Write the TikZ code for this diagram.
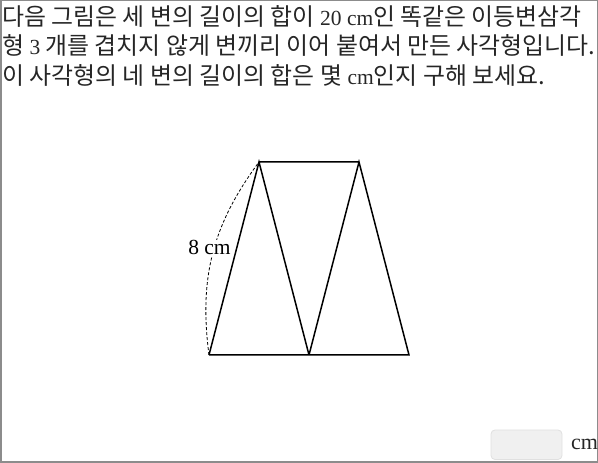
\documentclass[tikz,border=0pt]{standalone}
\usepackage{fontspec}
\setmainfont{Liberation Serif}
\newfontfamily\kr{Noto Sans CJK KR}
\newcommand{\hg}[1]{{\kr\fontsize{23.9}{26}\selectfont #1}}
\begin{document}
\begin{tikzpicture}[x=1pt,y=1pt,
  qtext/.style={anchor=base west, inner sep=0pt, text=black!85, font=\fontsize{21.5}{24}\selectfont},
  edge/.style={line width=1.5pt, black},
  arcdash/.style={line width=0.8pt, dash pattern=on 3pt off 2pt},
  ansbox/.style={draw=black!12, fill=black!6, rounded corners=4pt, line width=0.8pt}]
\useasboundingbox (0,0) rectangle (598,463);
\draw[black!45, line width=1.5pt] (0.75,0.75) rectangle (597.25,462.25);
% question text
\node[qtext] (l1) at (2,437.5) {\hg{다음 그림은 세 변의 길이의 합이 }20 cm\hg{인 똑같은 이등변삼각}};
\node[qtext] (l2) at (2,408) {\hg{형 }3\hg{\ 개를 겹치지 않게 변끼리 이어 붙여서 만든 사각형입니다.}};
\node[qtext] (l3) at (2,378.5) {\hg{이 사각형의 네 변의 길이의 합은 몇 }cm\hg{인지 구해 보세요.}};
% figure
\coordinate (A) at (209,108);
\coordinate (B) at (259,301);
\coordinate (C) at (309,108);
\coordinate (D) at (359,301);
\coordinate (E) at (409,108);
\draw[edge, line join=miter] (A) -- (B) -- (C) -- (A) (C) -- (D) -- (E) -- (C) (B) -- (D);
\draw[arcdash] (A) to[bend left=22] (B);
\node[fill=white, inner sep=1pt, font=\fontsize{21.5}{24}\selectfont, anchor=base] (lab) at (209.5,208) {8 cm};
% answer box
\node[ansbox, minimum width=71pt, minimum height=29.5pt, inner sep=0pt] (box) at (526.5,18.25) {};
\node[anchor=base west, inner sep=0pt, font=\fontsize{22}{24}\selectfont, text=black!85] (unit) at (571,13) {cm};
\end{tikzpicture}
\end{document}
